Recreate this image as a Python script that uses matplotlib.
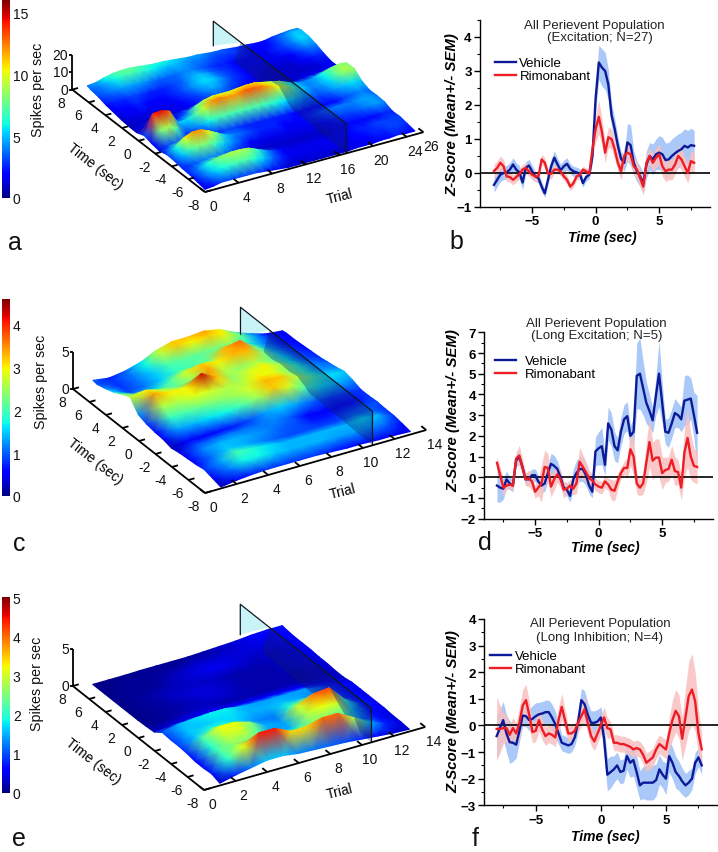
import numpy as np
import matplotlib
matplotlib.use("Agg")
import matplotlib.pyplot as plt
from matplotlib.cm import ScalarMappable
from matplotlib.colors import Normalize
from matplotlib.patches import Polygon
from matplotlib.ticker import MultipleLocator

plt.rcParams['font.family'] = ['Liberation Sans', 'DejaVu Sans']

W, H = 718, 853

# ---------- surface data: rows are times, columns are trials ----------
surf_times = [7.5, 7, 6, 5, 4, 3, 2, 1, 0, -1, -2, -3, -4, -5, -6, -7, -8]
trials_a = list(range(0, 26))
surf_a = [
 [4,4.5,6,7,7.5,7.5,7,6.5,6,6,5.5,5,4.5,4.5,4,3.5,3.5,3,2.5,2.5,2,2,3,3.5,4,4],
 [3.5,4,5,6,7,7,6.5,6,5.5,5,5,4.5,4,4,3.5,3,3,3,2.5,2,2,2,3,4,5,5],
 [3,3.5,4,4.5,4.5,4.5,4,3.5,3.5,3.5,4,4,3.5,3,2.5,2.5,2,2,2,1.5,1.5,2.5,3,4,5.5,5],
 [2,2.5,2.5,3,3,2.5,2.5,2.5,3,3.5,4.5,5,4.5,3.5,3,2.5,2,1.5,1.5,1.5,1.5,1.5,2,3,4,4],
 [1.5,2,2,2.5,2,2,2,2.5,3,4,5,5.5,5,4,3,2.5,2,1.5,1,1,1,1,1.5,2,2.5,2.5],
 [1,1.5,1.5,1.5,1.5,1.5,1.5,2,2.5,3,4,4.5,4,3,2.5,2,1.5,1,1,1,1,1,1,1,1.5,1.5],
 [.8,1,1,1,1,1,1.5,1.5,2,2.5,2.5,3,2.5,2.5,2,2,1.5,1.5,1,1,1,1.5,1.5,1.5,2,2],
 [1,1.5,3,3,2,2.5,4,7,9,10,10,10,10.5,11,11,10,9,8,6,4.5,4,4.5,6,7.5,8.5,8],
 [3,14,14.5,13,5,5.5,7,9.5,12,12.5,12,12,13,13,12.5,11.5,10,8.5,6.5,5,4,4.5,5.5,7.5,9,8.5],
 [2,8,9,7,3,3.5,4.5,6,7,7,7,7,7,7,6.5,6,5.5,5,4,3.5,3,3.5,4.5,5,5.5,5],
 [1.5,3,3.5,3,2,2,2,2.5,3,3,2.5,2.5,2.5,2.5,2.5,2.5,2,2,2,2,2,2,3,3.5,4,3.5],
 [3,6,10,12,12,10,7.5,5,4,3.5,3,2.5,2.5,2.5,2,2,2,2.5,3,3.5,4,4,4,4.5,4.5,4],
 [3,5,7,8,8,6.5,5,4,3,2,1.5,1.5,1.5,1.5,1.5,1.5,1.5,1.5,2,2.5,3,3,3.5,4,4.5,4],
 [2.5,3,3.5,4,4,3.5,3,2,1.5,1,1,1,1,1,1,1,1,1,1.5,1.5,2,2,2,2,2.5,2.5],
 [2.5,4,6,7.5,8.5,9,9,8.5,6.5,4.5,3,2,1.5,1.5,1.5,1.5,1.5,1.5,2,2,2.5,2.5,3,3,3,3],
 [2,3.5,5,6,6.5,7,7,6,5,3.5,2.5,1.5,1.5,1.5,1.5,1.5,1.5,1.5,1.5,2,2,2.5,2.5,3,3,2.5],
 [1.5,2,3,3,3,3,3,2.5,2,1.5,1,1,1,1,1,1,1,1,1.5,1.5,1.5,2,2,2.5,2,2],
]
trials_ce = list(range(1, 14))
surf_c = [
 [1.0,.7,1.0,1.6,2.6,3.2,3.2,3.4,3.0,2.0,1.2,.6,.4],
 [.9,.8,1.1,1.7,2.7,3.2,3.0,3.2,3.0,2.2,1.3,.7,.5],
 [1.2,.8,1.1,1.5,2.0,2.1,2.1,2.2,2.4,1.8,1.2,.7,.5],
 [1.6,.9,1.1,1.5,1.9,2.0,2.2,3.3,3.7,2.2,1.3,.8,.6],
 [2.2,1.4,1.5,2.0,2.8,3.2,3.0,3.3,3.3,2.3,1.5,.9,.7],
 [2.7,3.0,2.5,2.2,2.4,3.4,2.6,2.4,2.6,2.2,1.6,1.0,.8],
 [1.2,3.4,3.0,3.0,4.3,3.2,2.4,2.8,3.0,2.5,1.8,1.2,1.0],
 [.8,2.6,2.6,2.9,2.8,2.6,2.6,3.0,2.9,2.4,1.8,1.3,1.2],
 [.6,1.9,2.0,2.2,2.3,2.5,2.8,3.3,3.2,2.6,2.0,1.6,1.5],
 [.5,1.3,1.4,1.6,1.7,2.0,2.5,3.2,2.8,2.0,1.6,1.4,1.2],
 [.2,.5,.5,.6,.7,.9,1.3,1.5,1.3,1.0,.8,.8,.8],
 [.4,.9,1.0,1.1,1.1,1.1,1.2,1.0,.6,.5,.5,.6,.8],
 [.5,1.2,1.4,1.4,1.3,1.2,1.0,.9,.7,.7,.8,.9,.9],
 [.6,1.1,1.5,1.4,1.2,1.0,.9,.9,.9,.9,1.1,1.1,.8],
 [.8,1.3,2.0,1.8,1.6,1.4,1.4,1.4,1.4,1.4,1.6,1.4,.8],
 [.5,1.1,1.7,1.7,1.5,1.4,1.4,1.4,1.3,1.3,1.2,1.0,.6],
 [.2,.5,.7,.8,.8,.8,.8,.7,.6,.6,.5,.5,.4],
]
surf_e = [
 [.05,.05,.05,.1,.1,.1,.1,.2,.3,.4,.6,.7,.7],
 [.05,.05,.1,.1,.1,.1,.2,.2,.3,.4,.5,.6,.6],
 [.05,.1,.1,.1,.2,.3,.4,.4,.4,.4,.4,.5,.5],
 [.05,.1,.1,.15,.3,.4,.5,.5,.4,.3,.3,.4,.5],
 [.05,.1,.2,.3,.3,.3,.3,.2,.2,.2,.3,.4,.5],
 [.05,.1,.15,.3,.4,.4,.3,.2,.2,.2,.3,.4,.4],
 [.05,.1,.15,.2,.3,.4,.3,.2,.2,.2,.2,.3,.4],
 [.1,.1,.2,.3,.3,.2,.2,.2,.2,.2,.2,.3,.3],
 [.2,.4,.5,.6,.6,.6,.6,.6,.6,.6,.5,.4,.3],
 [1.0,1.5,1.7,1.8,1.8,1.5,1.4,1.4,1.4,1.4,1.0,.7,.5],
 [.9,1.6,1.6,1.7,1.7,1.5,1.5,1.6,1.5,1.3,1,.7,.5],
 [.9,1.6,2.0,2.0,1.6,1.3,1.2,2.0,2.4,2.2,1.2,.7,.5],
 [.8,2.2,3.2,3.2,2.6,1.5,1.4,3.0,4.0,4.2,2.0,.8,.5],
 [.6,2.0,3.0,3.0,2.2,1.3,1.5,2.8,3.2,3.0,1.5,.7,.5],
 [.6,2.2,2.6,2.4,2.2,2.0,2.2,2.6,2.4,2.0,1.2,.7,.4],
 [.7,2.0,3.2,4.4,4.4,3.4,3.4,4.0,4.0,2.8,1.6,.8,.4],
 [.3,.8,1.2,1.6,1.6,1.3,1.2,1.1,1.0,.8,.6,.4,.3],
]

# ---------- z-score traces ----------
time_s = np.arange(-8, 8, 0.25)
b_veh = [-.35,-.2,-.05,0,.02,.1,.25,.1, .02,-.28,.15,.22,.05,-.1,-.15,-.4,
         -.6,-.2,.2,.45,.25,.08,.2,.27, .12,.05,.02,-.02,-.3,-.12,-.05,.5,
         2.2,3.25,3.1,3.0,2.6,1.7,1.3,.8, .42,.3,.9,.82,.3,.05,-.1,-.3,
         .25,.5,.4,.55,.6,.55,.38,.4, .5,.58,.65,.7,.8,.75,.82,.8]
b_veh_sem = [.22,.2,.2,.2,.2,.2,.2,.2, .2,.2,.18,.18,.18,.15,.15,.15,
             .12,.15,.2,.2,.18,.18,.18,.18, .15,.15,.15,.15,.12,.12,.12,.2,
             .4,.5,.55,.55,.45,.35,.3,.25, .2,.25,.55,.6,.35,.3,.3,.3,
             .4,.4,.45,.45,.5,.5,.5,.5, .5,.5,.5,.5,.5,.5,.5,.45]
b_rim = [.06,.15,.3,.2,-.1,-.12,-.2,-.12, -.03,.1,.15,.05,-.05,-.1,-.1,.4,
         .3,-.02,-.02,.1,.1,.05,-.1,-.2, -.4,-.3,-.1,-.05,.1,.05,-.02,.7,
         1.3,1.65,1.2,.6,1.05,1.0,.7,.3, .05,.5,.6,.55,.2,.1,-.15,-.4,
         .3,.5,.3,.45,.55,.2,.05,.1, .1,.25,.5,.4,.2,0,.35,.3]
b_rim_sem = [.2,.2,.2,.2,.15,.15,.15,.15, .15,.15,.15,.15,.15,.15,.15,.15,
             .15,.15,.15,.12,.12,.12,.12,.12, .12,.12,.12,.12,.1,.1,.1,.2,
             .4,.5,.4,.3,.3,.3,.3,.25, .25,.25,.25,.25,.25,.25,.25,.25,
             .25,.25,.25,.3,.3,.3,.3,.3, .3,.3,.3,.3,.3,.3,.3,.3]
d_veh = [-.4,-.5,-.55,-.1,-.3,-.4,.8,1.0, .5,-.1,-.1,.1,.1,-.2,-.4,-.3,
         .2,.65,.55,.4,0,-.5,-.6,-.9, -.1,.2,.4,.4,.1,-.4,-.7,1.25,
         1.4,1.5,.6,2.6,2.3,1.5,1.3,2.2, 2.8,2.95,2.0,2.2,4.9,5.0,4.3,3.6,
         3.2,2.75,3.9,5.0,3.6,2.2,2.15,2.6, 3.1,3.0,2.8,3.7,3.75,3.8,3.0,2.15]
d_veh_sem = [.8,.7,.5,.4,.3,.3,.3,.3, .3,.3,.3,.3,.3,.3,.3,.4,
             .4,.5,.5,.4,.3,.3,.3,.3, .5,.6,.6,.6,.5,.4,.3,.7,
             .8,.9,.5,.8,.8,.7,.6,.7, .7,.7,.5,.7,1.6,1.7,1.3,1.0,
             .8,.6,.9,1.6,1.0,.6,.7,.7, .7,.6,.6,1.2,1.2,1.0,1.1,1.8]
d_rim = [.7,.1,-.5,-.4,-.35,-.4,.9,1.05, .5,-.1,-.05,-.2,-.7,-.5,-.3,.5,
         .45,-.45,-.1,.15,-.1,-.6,-.55,-.4, -.55,-.3,.75,.5,.25,-.05,-.15,-.35,
         -.45,-.5,-.2,-.35,-.6,-.65,-.2,.2, .45,.45,1.35,1.0,-.3,-.5,-.3,.7,
         1.7,.8,.95,.95,.2,.35,.4,.85, .3,.25,-.5,1.2,1.9,1.0,.55,.5]
d_rim_sem = [.3,.4,.4,.2,.2,.2,.3,.5, .4,.3,.4,.4,.3,.4,.9,.8,
             .7,.5,.5,.4,.4,.4,.3,.3, .3,.5,.7,.6,.5,.4,.3,.3,
             .3,.3,.3,.3,.5,.5,.4,.3, .3,.5,.8,.9,.5,.4,.5,1.0,
             1.2,.9,.9,.9,.8,.6,.6,.7, .7,.6,.6,1.2,1.4,1.1,.8,.8]
f_veh = [-.4,-.1,.2,-.3,-.63,-.65,-.72,-.2, .37,.35,.2,.25,.35,.42,.45,.5,
         .5,.3,.05,-.3,-.65,-.7,-.75,-.7, -.45,.1,.95,.8,.4,.1,.1,.15,
         .3,-.5,-1.85,-1.75,-1.65,-1.5,-1.75,-1.7, -1.15,-1.4,-1.3,-1.75,-2.25,-2.15,-2.15,-2.15,
         -2.15,-2.05,-1.65,-1.85,-2.0,-1.15,-1.4,-1.75, -1.9,-2.1,-2.25,-2.15,-2.0,-1.4,-1.2,-1.5]
f_veh_sem = [.8,.7,.7,.7,.8,.7,.5,.4, .4,.4,.4,.5,.5,.45,.45,.45,
             .45,.5,.5,.4,.3,.3,.3,.3, .3,.4,.45,.5,.45,.45,.45,.45,
             .4,.6,.6,.6,.5,.5,.45,.45, .5,.55,.6,.6,.55,.6,.65,.65,
             .65,.6,.55,.5,.6,.6,.6,.6, .55,.5,.45,.45,.4,.4,.35,.35]
f_rim = [-.13,-.13,-.1,-.1,-.35,-.1,-.3,.1, .75,.95,.4,-.25,-.2,.2,-.15,-.4,
         -.3,-.35,-.45,.2,.7,.2,-.3,-.3, -.2,.1,.35,.6,.1,-.4,-.6,-.3,
         0,.3,-.1,-.15,-.65,-.65,-.7,-.7, -.75,-.8,-.9,-.85,-.9,-1.1,-1.4,-1.3,
         -1.2,-.9,-.7,-.8,-.9,-.3,.2,.55, .35,-.5,.3,1.1,1.35,.9,-.3,-.9]
f_rim_sem = [1.2,.9,.6,.5,.4,.4,.4,.6, .6,.6,.5,.4,.4,.4,.4,.35,
             .35,.35,.35,.5,.5,.4,.3,.3, .3,.35,.4,.5,.4,.35,.35,.35,
             .35,.4,.4,.3,.3,.3,.3,.3, .3,.3,.3,.3,.3,.35,.35,.35,
             .35,.35,.35,.35,.35,.6,.75,.8, .8,.8,1.1,1.3,1.35,1.1,.9,.6]

LEGEND = ["Vehicle", "Rimonabant"]
TIME_TICKS = [8, 6, 4, 2, 0, -2, -4, -6, -8]

fig = plt.figure(figsize=(W / 100, H / 100), dpi=100, facecolor='white')
page = fig.add_axes([0, 0, 1, 1], zorder=0)
page.set_xlim(0, W)
page.set_ylim(H, 0)
page.axis('off')


def px_axes(l, t, r, b, **kw):
    return fig.add_axes([l / W, 1 - b / H, (r - l) / W, (b - t) / H], **kw)


def panel3d(org, tv, uv, zs, data, trials, vmax, cbar_box, cbar_top, cbar_ticks,
            spike_xy, ztick, ztick_labels, trial_ticks, plane_t, plane_h, plane_s, plane_zfar,
            time_label, trial_label, surf_shear=0.0):
    def project(t, s, z):
        t, s, z = np.asarray(t, float), np.asarray(s, float), np.asarray(z, float)
        u = s + 8
        return (org[0] + tv[0] * t + uv[0] * u,
                org[1] + tv[1] * t + uv[1] * u - zs * z)

    T, S = np.meshgrid(np.array(trials, float)[::-1], np.array(surf_times, float))
    Z = np.array(data, float)[:, ::-1]
    X, Y = project(T, S, Z)
    X = X + surf_shear * (S + 8)

    p = lambda pts: np.column_stack(project(*zip(*pts)))
    # far part of the plane, seen behind the surface
    page.add_patch(Polygon(p([(plane_t, 8, plane_h), (plane_t, plane_s, plane_h), (plane_t, 8, plane_zfar)]),
                           closed=True, fc='#c8f4f8', ec='none', zorder=1))
    # the surface behind the plane, then the plane, then the surface in front of it
    split = int(np.floor(plane_t))
    far = T[0] >= split
    near = T[0] <= split
    page.pcolormesh(X[:, far], Y[:, far], Z[:, far], shading='gouraud', cmap='jet', vmin=0, vmax=vmax, zorder=2)
    page.add_patch(Polygon(p([(plane_t, -8, 0), (plane_t, -8, plane_h),
                              (plane_t, plane_s, plane_h), (plane_t, plane_s + 0.8, plane_zfar)]),
                           closed=True, fc='#101c60', ec='none', alpha=0.33, zorder=3))
    lx, ly = project([plane_t] * 4, [8, 8, -8, -8], [plane_zfar, plane_h, plane_h, 0])
    page.plot(lx, ly, color='#101820', lw=0.9, zorder=3.2)
    page.pcolormesh(X[:, near], Y[:, near], Z[:, near], shading='gouraud', cmap='jet', vmin=0, vmax=vmax, zorder=3.5)

    # axes
    ax_kw = dict(color='black', lw=1.3, zorder=5, solid_capstyle='butt')
    x, y = project([0, 0], [-8, 8], [0, 0]); page.plot(x, y, **ax_kw)
    tmax = trial_ticks[-1]
    x, y = project([0, tmax], [-8, -8], [0, 0]); page.plot(x, y, **ax_kw)
    x, y = project([0, 0], [8, 8], [0, ztick[-1]]); page.plot(x, y, **ax_kw)
    tk_t = 0.027 * tmax
    for s in TIME_TICKS:
        x, y = project([0, tk_t], [s, s], [0, 0]); page.plot(x, y, **ax_kw)
        xb, yb = project(0, s, 0)
        page.text(xb - 11, yb + 13, str(s), ha='center', va='center', fontsize=10, color='#111111')
    for t in trial_ticks:
        x, y = project([t, t], [-8, -7.4], [0, 0]); page.plot(x, y, **ax_kw)
        xb, yb = project(t, -8, 0)
        page.text(xb + 8, yb + 14, str(t), ha='center', va='center', fontsize=10, color='#111111')
    for v, lab in zip(ztick, ztick_labels):
        xb, yb = project(0, 8, v)
        page.plot([xb - 3, xb], [yb, yb], **ax_kw)
        page.text(xb - 4, yb, lab, ha='right', va='center', fontsize=10, color='#111111')
    page.text(*time_label, "Time (sec)", rotation=-38, ha='center', va='center', fontsize=10, rotation_mode='anchor')
    page.text(*trial_label, "Trial", rotation=14, ha='center', va='center', fontsize=10, rotation_mode='anchor')

    # colorbar
    cax = px_axes(*cbar_box)
    cb = fig.colorbar(ScalarMappable(Normalize(0, vmax), 'jet'), cax=cax, ticks=cbar_ticks)
    cax.set_ylim(0, cbar_top)
    cb.outline.set_visible(False)
    cax.tick_params(length=0, labelsize=10, pad=2, labelcolor='#111111')
    page.text(*spike_xy, "Spikes per sec", rotation=90, ha='center', va='center', fontsize=10.3, color='#111111')


panel3d((205, 193), (8.4, -2.3), (-8.3, -6.4), 1.75, surf_a, trials_a, 16,
        (2, 1, 10, 199), 16, [0, 5, 10, 15], (38, 90), [0, 10, 20], ['0', '10', '20'],
        [0, 4, 8, 12, 16, 20, 24, 26], 16.8, 17, 4.7, 3, (95, 167), (340, 197), surf_shear=0.7)
panel3d((205, 494), (15.8, -4.5), (-8.25, -6.5), 7.4, surf_c, trials_ce, 4.6,
        (2, 300, 10, 497), 4.6, [0, 1, 2, 3, 4], (41, 382), [0, 5], ['0', '5'],
        [0, 2, 4, 6, 8, 10, 12, 14], 10.6, 4.6, 4.5, 0.5, (95, 462), (343, 492))
panel3d((204, 791), (15.8, -4.5), (-8.2, -6.5), 7.4, surf_e, trials_ce, 5,
        (2, 598, 10, 794), 5, [0, 1, 2, 3, 4, 5], (37, 684), [0, 5], ['0', '5'],
        [0, 2, 4, 6, 8, 10, 12, 14], 10.6, 4.6, 4.5, 0.5, (93, 762), (340, 792))


def trace_panel(box, xlim, ylim, yticks, veh, veh_sem, rim, rim_sem, title, title_xy,
                ylabel_xy, ylabel_h, xlabel_xy, legend_xy, text_pad):
    ax = px_axes(*box, zorder=2)
    ax.patch.set_alpha(0)
    veh, veh_sem, rim, rim_sem = map(np.array, (veh, veh_sem, rim, rim_sem))
    ax.fill_between(time_s, veh - veh_sem, veh + veh_sem, color='#aac8f8', lw=0, zorder=1)
    ax.fill_between(time_s, rim - rim_sem, rim + rim_sem, color='#f8c0c0', lw=0, alpha=0.85, zorder=2)
    ax.axhline(0, color='black', lw=1.2, zorder=3)
    l1, = ax.plot(time_s, veh, color='#0c1a98', lw=1.7, zorder=4, label=LEGEND[0])
    l2, = ax.plot(time_s, rim, color='#ee1c25', lw=1.7, zorder=5, label=LEGEND[1])
    ax.set_xlim(*xlim)
    ax.set_ylim(*ylim)
    ax.set_xticks([-5, 0, 5])
    ax.xaxis.set_minor_locator(MultipleLocator(2.5))
    ax.set_yticks(yticks)
    ax.yaxis.set_minor_locator(MultipleLocator(0.5))
    for s in ('top', 'right'):
        ax.spines[s].set_visible(False)
    for s in ('left', 'bottom'):
        ax.spines[s].set_linewidth(1.0)
    ax.tick_params(which='major', length=4, width=1.0, pad=2, labelsize=9.5)
    ax.tick_params(which='minor', length=2.5, width=0.8)
    for lab in ax.get_xticklabels() + ax.get_yticklabels():
        lab.set_fontweight('bold')
    for txt, xy in zip(title, title_xy):
        page.text(xy[0], xy[1], txt, ha='center', va='center', fontsize=9.5, color='#222222')
    page.text(*ylabel_xy, "Z-Score (Mean+/- SEM)", rotation=90, ha='center', va='center',
              fontsize=ylabel_h, fontweight='bold', fontstyle='italic')
    page.text(*xlabel_xy, "Time (sec)", ha='center', va='center', fontsize=10,
              fontweight='bold', fontstyle='italic')
    ax.legend(handles=[l1, l2], loc='upper left', bbox_to_anchor=(legend_xy[0] / W, 1 - legend_xy[1] / H),
              bbox_transform=fig.transFigure, frameon=False, fontsize=9.5, borderpad=0, borderaxespad=0,
              labelspacing=0.05, handlelength=1.6, handletextpad=text_pad)


trace_panel((480, 21, 710, 208), (-9.1, 9.0), (-1, 4.5), [-1, 0, 1, 2, 3, 4],
            b_veh, b_veh_sem, b_rim, b_rim_sem,
            ["All Perievent Population", "(Excitation; N=27)"], [(594, 26), (600, 38)],
            (452, 115), 10.8, (602, 238), (495, 58), 0.25)
trace_panel((484.3, 333.3, 713, 519.7), (-9.0, 9.0), (-2, 7), [-2, -1, 0, 1, 2, 3, 4, 5, 6, 7],
            d_veh, d_veh_sem, d_rim, d_rim_sem,
            ["All Perievent Population", "(Long Excitation; N=5)"], [(596, 324), (597, 336)],
            (453, 411), 10.8, (605, 548), (495, 356), 0.7)
trace_panel((484.3, 620, 718, 806.3), (-8.95, 9.0), (-3, 4), [-3, -2, -1, 0, 1, 2, 3, 4],
            f_veh, f_veh_sem, f_rim, f_rim_sem,
            ["All Perievent Population", "(Long Inhibition; N=4)"], [(600, 624), (599, 638)],
            (453, 712), 10.8, (605, 837), (490, 651), 0.3)

for letter, xy in zip("abcdef", [(15, 243), (456, 242), (19, 544), (485, 543), (19, 839), (475, 839)]):
    page.text(xy[0], xy[1], letter, ha='center', va='center', fontsize=18, color='#111111', zorder=6)

page.set_xlim(0, W)
page.set_ylim(H, 0)
fig.savefig("out.png", dpi=100)
